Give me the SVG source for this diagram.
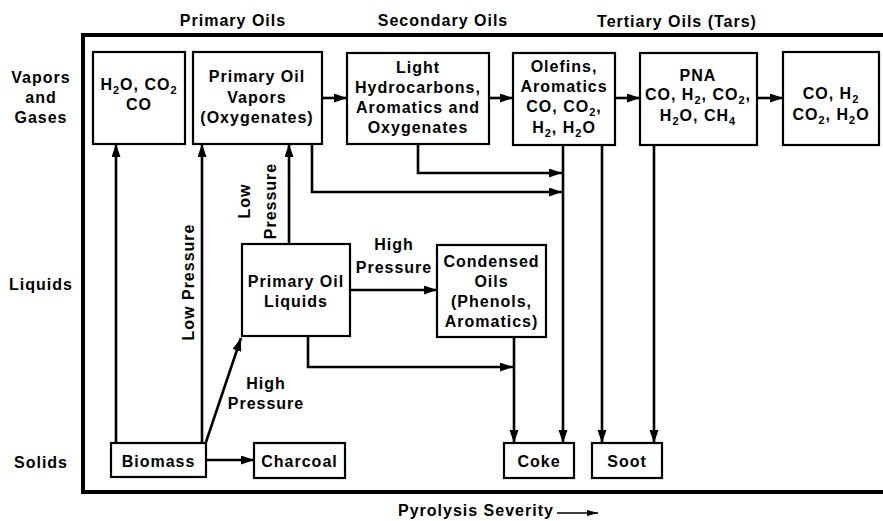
<svg xmlns="http://www.w3.org/2000/svg" width="883" height="521" viewBox="0 0 883 521">
<defs>
<style>
text{font-family:"Liberation Sans",Arial,sans-serif;font-weight:bold;font-size:16px;letter-spacing:1px;fill:#000;text-anchor:middle}
.box{fill:#fff;stroke:#000;stroke-width:2.2}
.c{fill:none;stroke:#000;stroke-width:2.6}
.s{font-size:11px}
</style>
<marker id="ah" markerUnits="userSpaceOnUse" markerWidth="14" markerHeight="10" refX="13" refY="4.5" orient="auto">
<path d="M0,0 L13,4.5 L0,9 z" fill="#000"/>
</marker>
<marker id="ahs" markerUnits="userSpaceOnUse" markerWidth="12" markerHeight="8" refX="11" refY="3" orient="auto">
<path d="M0,0 L11,3 L0,6 z" fill="#000"/>
</marker>
</defs>
<rect width="883" height="521" fill="#fff"/>

<g id="frame">
<path d="M886,35 H83 V492 H886" fill="none" stroke="#000" stroke-width="4"/>
</g>

<g id="labels">
<text x="233" y="26">Primary Oils</text>
<text x="443" y="26">Secondary Oils</text>
<text x="677" y="27">Tertiary Oils (Tars)</text>
<text x="41" y="83">Vapors</text>
<text x="41" y="103">and</text>
<text x="41" y="123">Gases</text>
<text x="41" y="290">Liquids</text>
<text x="41" y="468">Solids</text>
<text x="398" y="516" style="text-anchor:start">Pyrolysis Severity</text>
<line x1="557" y1="513" x2="598" y2="513" stroke="#000" stroke-width="1.6" marker-end="url(#ahs)"/>
<text transform="translate(194,282) rotate(-90)">Low Pressure</text>
<text transform="translate(250,201) rotate(-90)">Low</text>
<text transform="translate(276,201) rotate(-90)">Pressure</text>
<text x="394" y="250">High</text>
<text x="394" y="273">Pressure</text>
<text x="266" y="389">High</text>
<text x="266" y="409">Pressure</text>
</g>

<g id="connectors">
<path class="c" d="M116,443 V144" marker-end="url(#ah)"/>
<path class="c" d="M202,443 V144" marker-end="url(#ah)"/>
<path class="c" d="M206,442 L241,338" marker-end="url(#ah)"/>
<path class="c" d="M289,244 V144" marker-end="url(#ah)"/>
<path class="c" d="M350,290 H437" marker-end="url(#ah)"/>
<path class="c" d="M308,336 V367 H513" marker-end="url(#ah)"/>
<path class="c" d="M514,337 V443" marker-end="url(#ah)"/>
<path class="c" d="M312,144 V192 H562" marker-end="url(#ah)"/>
<path class="c" d="M418,144 V173 H562" marker-end="url(#ah)"/>
<path class="c" d="M563,145 V443" marker-end="url(#ah)"/>
<path class="c" d="M602,145 V443" marker-end="url(#ah)"/>
<path class="c" d="M654,145 V443" marker-end="url(#ah)"/>
<path class="c" d="M206,460 H254" marker-end="url(#ah)"/>
<path class="c" d="M322,98 H347" marker-end="url(#ah)"/>
<path class="c" d="M489,98 H513" marker-end="url(#ah)"/>
<path class="c" d="M615,98 H640" marker-end="url(#ah)"/>
<path class="c" d="M757,98 H783" marker-end="url(#ah)"/>
</g>

<g id="n-gases1">
<rect class="box" x="93" y="52" width="92" height="92"/>
<text x="139" y="90">H<tspan class="s" dy="4">2</tspan><tspan dy="-4">O, CO</tspan><tspan class="s" dy="4">2</tspan></text>
<text x="139" y="110">CO</text>
</g>

<g id="n-primary-vapors">
<rect class="box" x="193" y="52" width="129" height="92"/>
<text x="257" y="82">Primary Oil</text>
<text x="257" y="103">Vapors</text>
<text x="257" y="123">(Oxygenates)</text>
</g>

<g id="n-light-hc">
<rect class="box" x="347" y="53" width="142" height="91"/>
<text x="418" y="73">Light</text>
<text x="418" y="93">Hydrocarbons,</text>
<text x="418" y="113">Aromatics and</text>
<text x="418" y="133">Oxygenates</text>
</g>

<g id="n-olefins">
<rect class="box" x="513" y="53" width="102" height="92"/>
<text x="564" y="72">Olefins,</text>
<text x="564" y="92">Aromatics</text>
<text x="564" y="112">CO, CO<tspan class="s" dy="4">2</tspan><tspan dy="-4">,</tspan></text>
<text x="564" y="133">H<tspan class="s" dy="4">2</tspan><tspan dy="-4">, H</tspan><tspan class="s" dy="4">2</tspan><tspan dy="-4">O</tspan></text>
</g>

<g id="n-pna">
<rect class="box" x="640" y="53" width="117" height="92"/>
<text x="698" y="81">PNA</text>
<text x="698" y="100">CO, H<tspan class="s" dy="4">2</tspan><tspan dy="-4">, CO</tspan><tspan class="s" dy="4">2</tspan><tspan dy="-4">,</tspan></text>
<text x="698" y="121">H<tspan class="s" dy="4">2</tspan><tspan dy="-4">O, CH</tspan><tspan class="s" dy="4">4</tspan></text>
</g>

<g id="n-final-gases">
<rect class="box" x="783" y="52" width="96" height="93"/>
<text x="831" y="99">CO, H<tspan class="s" dy="4">2</tspan></text>
<text x="831" y="120">CO<tspan class="s" dy="4">2</tspan><tspan dy="-4">, H</tspan><tspan class="s" dy="4">2</tspan><tspan dy="-4">O</tspan></text>
</g>

<g id="n-primary-liquids">
<rect class="box" x="242" y="244" width="108" height="92"/>
<text x="296" y="287">Primary Oil</text>
<text x="296" y="307">Liquids</text>
</g>

<g id="n-condensed">
<rect class="box" x="437" y="245" width="109" height="92"/>
<text x="491.5" y="267">Condensed</text>
<text x="491.5" y="287">Oils</text>
<text x="491.5" y="307">(Phenols,</text>
<text x="491.5" y="327">Aromatics)</text>
</g>

<g id="n-biomass">
<rect class="box" x="111" y="443" width="95" height="34"/>
<text x="158.5" y="467">Biomass</text>
</g>

<g id="n-charcoal">
<rect class="box" x="254" y="443" width="91" height="35"/>
<text x="299.5" y="467">Charcoal</text>
</g>

<g id="n-coke">
<rect class="box" x="504" y="443" width="70" height="35"/>
<text x="539" y="467">Coke</text>
</g>

<g id="n-soot">
<rect class="box" x="592" y="443" width="70" height="35"/>
<text x="627" y="467">Soot</text>
</g>
</svg>
